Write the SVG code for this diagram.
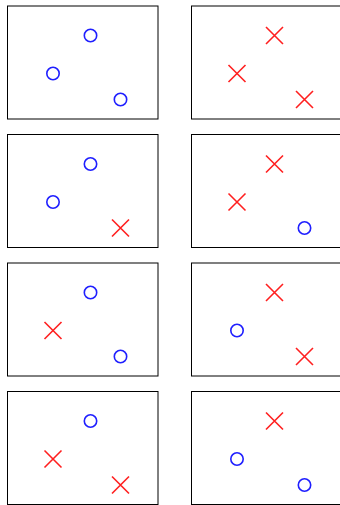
<svg xmlns="http://www.w3.org/2000/svg" width="340" height="505" viewBox="0 0 340 505">
<style>
.frame{fill:#fff;stroke:#000;stroke-width:1}
.o{fill:none;stroke:#1f1fff;stroke-width:1.6}
.x{fill:none;stroke:#ff1f1f;stroke-width:1.6}
</style>
<defs>
<circle id="O" r="6.2" class="o"/>
<path id="X" d="M-8.5,-8.5L8.5,8.5M-8.5,8.5L8.5,-8.5" class="x"/>
</defs>
<rect width="340" height="505" fill="#fff"/>
<g id="p1" transform="translate(7.5,6)"><rect class="frame" width="150.5" height="113"/><use href="#O" x="83" y="29.5"/><use href="#O" x="45.5" y="67.5"/><use href="#O" x="113" y="93.5"/></g>
<g id="p2" transform="translate(191.5,6)"><rect class="frame" width="150.5" height="113"/><use href="#X" x="83" y="29.5"/><use href="#X" x="45.5" y="67.5"/><use href="#X" x="113" y="93.5"/></g>
<g id="p3" transform="translate(7.5,134.5)"><rect class="frame" width="150.5" height="113"/><use href="#O" x="83" y="29.5"/><use href="#O" x="45.5" y="67.5"/><use href="#X" x="113" y="93.5"/></g>
<g id="p4" transform="translate(191.5,134.5)"><rect class="frame" width="150.5" height="113"/><use href="#X" x="83" y="29.5"/><use href="#X" x="45.5" y="67.5"/><use href="#O" x="113" y="93.5"/></g>
<g id="p5" transform="translate(7.5,263)"><rect class="frame" width="150.5" height="113"/><use href="#O" x="83" y="29.5"/><use href="#X" x="45.5" y="67.5"/><use href="#O" x="113" y="93.5"/></g>
<g id="p6" transform="translate(191.5,263)"><rect class="frame" width="150.5" height="113"/><use href="#X" x="83" y="29.5"/><use href="#O" x="45.5" y="67.5"/><use href="#X" x="113" y="93.5"/></g>
<g id="p7" transform="translate(7.5,391.5)"><rect class="frame" width="150.5" height="113"/><use href="#O" x="83" y="29.5"/><use href="#X" x="45.5" y="67.5"/><use href="#X" x="113" y="93.5"/></g>
<g id="p8" transform="translate(191.5,391.5)"><rect class="frame" width="150.5" height="113"/><use href="#X" x="83" y="29.5"/><use href="#O" x="45.5" y="67.5"/><use href="#O" x="113" y="93.5"/></g>
<g id="connectors"/>
</svg>
